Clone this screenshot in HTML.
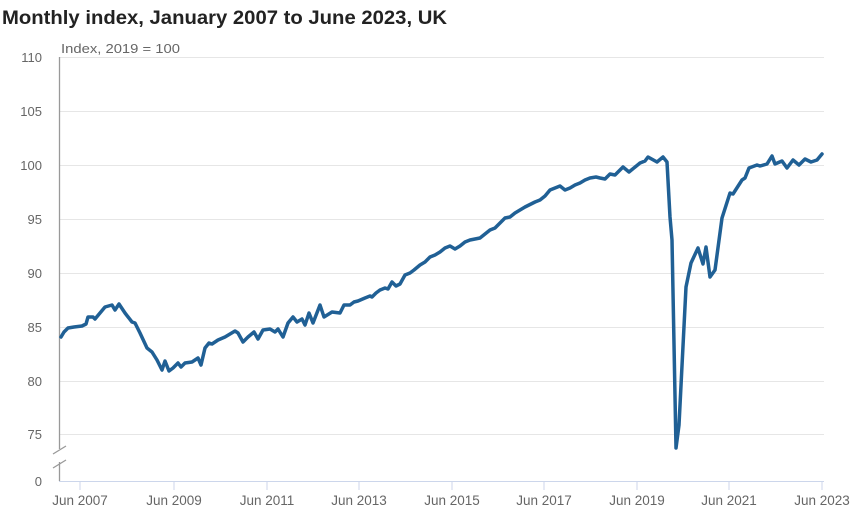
<!DOCTYPE html>
<html><head><meta charset="utf-8"><style>
body{margin:0;background:#fff;width:862px;height:527px;overflow:hidden;font-family:"Liberation Sans",sans-serif}
</style></head><body>
<svg width="862" height="527" xmlns="http://www.w3.org/2000/svg" font-family="Liberation Sans, sans-serif">
<text x="2" y="24" font-size="19" font-weight="bold" fill="#222" textLength="445" lengthAdjust="spacingAndGlyphs">Monthly index, January 2007 to June 2023, UK</text>
<g stroke="#e6e6e6" stroke-width="1">
<line x1="59" x2="824" y1="57.5" y2="57.5"/>
<line x1="59" x2="824" y1="111.5" y2="111.5"/>
<line x1="59" x2="824" y1="165.5" y2="165.5"/>
<line x1="59" x2="824" y1="219.5" y2="219.5"/>
<line x1="59" x2="824" y1="273.5" y2="273.5"/>
<line x1="59" x2="824" y1="327.5" y2="327.5"/>
<line x1="59" x2="824" y1="381.5" y2="381.5"/>
<line x1="59" x2="824" y1="434.5" y2="434.5"/>
</g>
<line x1="59" x2="824" y1="481.5" y2="481.5" stroke="#ccd6eb"/>
<g stroke="#ccd6eb">
<line x1="80" x2="80" y1="481" y2="490"/><line x1="174" x2="174" y1="481" y2="490"/><line x1="267" x2="267" y1="481" y2="490"/><line x1="359" x2="359" y1="481" y2="490"/><line x1="452" x2="452" y1="481" y2="490"/><line x1="544" x2="544" y1="481" y2="490"/><line x1="637" x2="637" y1="481" y2="490"/><line x1="729" x2="729" y1="481" y2="490"/><line x1="822" x2="822" y1="481" y2="490"/>
</g>
<g stroke="#999" stroke-width="1.3">
<line x1="59.5" x2="59.5" y1="57" y2="449"/>
<line x1="59.5" x2="59.5" y1="462" y2="481"/>
<line x1="53" x2="66" y1="454" y2="446"/>
<line x1="53" x2="66" y1="468" y2="460"/>
</g>
<text x="61" y="53" font-size="13" fill="#666" textLength="119" lengthAdjust="spacingAndGlyphs">Index, 2019 = 100</text>
<g font-size="13" fill="#666" text-anchor="end">
<text x="42" y="62">110</text><text x="42" y="116">105</text><text x="42" y="170">100</text><text x="42" y="224">95</text><text x="42" y="278">90</text><text x="42" y="332">85</text><text x="42" y="386">80</text><text x="42" y="439">75</text><text x="42" y="486">0</text>
</g>
<g font-size="13.5" fill="#666" text-anchor="middle">
<text x="80" y="505">Jun 2007</text><text x="174" y="505">Jun 2009</text><text x="267" y="505">Jun 2011</text><text x="359" y="505">Jun 2013</text><text x="452" y="505">Jun 2015</text><text x="544" y="505">Jun 2017</text><text x="637" y="505">Jun 2019</text><text x="729" y="505">Jun 2021</text><text x="822" y="505">Jun 2023</text>
</g>
<polyline fill="none" stroke="#206095" stroke-width="3.5" stroke-linejoin="round" stroke-linecap="round" points="
61,337 64,332 68,328 74,327 82,326 86,324 88,317 93,317 95,319 100,313 105,307 112,305 115,310 119,304 125,313 132,322 135,323 140,333 147,348 152,352 157,360 162,370 165,361 169,371 173,368 178,363 181,367 185,363 192,362 198,358 201,365 205,348 209,343 212,344 218,340 225,337 235,331 238,333 243,342 248,337 254,332 258,339 263,330 270,329 275,332 278,329 283,337 288,323 293,317 297,322 302,319 305,325 309,313 313,323 320,305 324,317 332,312 340,313 344,305 350,305 354,302 358,301 365,298 370,296 372,297 376,293 380,290 385,288 388,289 392,282 396,286 400,284 405,275 410,273 414,270 420,265 425,262 430,257 435,255 440,252 445,248 450,246 455,249 460,246 465,242 470,240 480,238 490,230 495,228 500,223 505,218 510,217 515,213 520,210 525,207 535,202 540,200 545,196 550,190 555,188 560,186 565,190 570,188 575,185 580,183 585,180 590,178 596,177 600,178 605,179 610,174 615,175 623,167 629,172 640,163 645,161 648,157 657,162 663,157 667,162 670,217 672,240 676,448 679,425 686,287 691,263 698,248 703,264 706,247 710,277 715,270 722,218 730,193 733,194 742,180 745,178 749,168 757,165 760,166 767,164 772,156 775,164 782,161 787,168 793,160 799,165 805,159 811,162 817,160 822,154"/>
</svg>
</body></html>
